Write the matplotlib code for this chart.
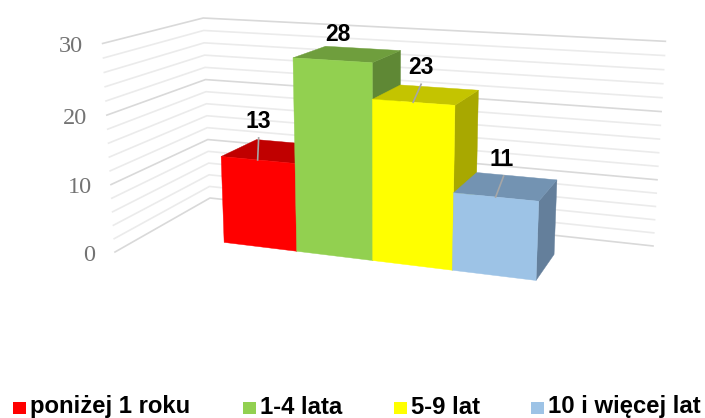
import numpy as np
import matplotlib
matplotlib.use("Agg")
import matplotlib.pyplot as plt
from matplotlib.patches import Polygon, Rectangle

# data
categories = ["poniżej 1 roku", "1-4 lata", "5-9 lat", "10 i więcej lat"]
values = [13, 28, 23, 11]
ticks = [0, 10, 20, 30]

front_cols = ["#FF0000", "#92D050", "#FFFF00", "#9DC3E6"]
top_cols = ["#C00000", "#6F9E3D", "#C4C400", "#7393B2"]
side_cols = ["#A80000", "#5F8835", "#A8A800", "#647F9B"]

# camera: (category, depth, value) -> pixel, fitted once on the bar corners
P = np.array([[65.78965762832885, 50.53904505649315, -0.5496288416570753, 224.14296183449795],
              [3.138042023983728, -7.976273374930258, -6.835055547757667, 242.41008498563372],
              [-0.022726684832926836, 0.061625699997493344, -0.0014406814338698837, 1.0]])

# walls in the same coordinates
xf, yf = -1.078, -0.815
xc, yw = -1.143, 1.768
xr = 5.093

def proj(x, y, z):
    h = P @ np.array([x, y, z, 1.0])
    return h[0]/h[2], h[1]/h[2]

fig = plt.figure(figsize=(7.05, 4.18), dpi=100)
ax = fig.add_axes([0, 0, 1, 1])
ax.set_xlim(0, 705)
ax.set_ylim(418, 0)
ax.axis("off")

# gridlines on the two walls
for z in range(0, 31, 2):
    major = z % 10 == 0
    pts = [proj(xf, yf, z), proj(xc, yw, z), proj(xr, yw, z)]
    ax.plot([p[0] for p in pts], [p[1] for p in pts],
            color="#d9d9d9" if major else "#ebebeb", lw=1.2, zorder=1)

for t in ticks:
    u, v = proj(xf, yf, t)
    ax.text(u-19.5, v+3, str(t), ha="right", va="center", family="Liberation Serif",
            fontsize=17.5, color="#737373")

def face(pts, col):
    ax.add_patch(Polygon([proj(*p) for p in pts], closed=True, fc=col, ec=col, lw=0.3, zorder=3))

for i, val in enumerate(values):
    face([(i+1,0,val),(i+1,1,val),(i+1,1,0),(i+1,0,0)], side_cols[i])
    face([(i,0,val),(i+1,0,val),(i+1,1,val),(i,1,val)], top_cols[i])
    face([(i,0,0),(i+1,0,0),(i+1,0,val),(i,0,val)], front_cols[i])

# value labels, offsets in pixels from the middle of the front top edge
lab_dx = [1, 6, 8, 6]
lab_dy = [-38, -26, -35, -37]
line_end = [(1, -22), None, (8, -18), (8, -21)]
for i, val in enumerate(values):
    u, v = proj(i+0.5, 0, val)
    if line_end[i] is not None:
        ax.plot([u, u+line_end[i][0]], [v, v+line_end[i][1]], color="#a6a6a6", lw=1.2, zorder=4)
    ax.text(u+lab_dx[i], v+lab_dy[i], str(val), ha="center", va="center",
            family="Liberation Sans", weight="bold", fontsize=16.5, color="black", zorder=5)

# legend
sq_x = [13, 243, 394, 531]
for i, c in enumerate(categories):
    ax.add_patch(Rectangle((sq_x[i], 402), 12.5, 12, fc=front_cols[i], ec="none"))
    ax.text(sq_x[i]+17, 413.5, c, ha="left", va="baseline", family="Liberation Sans",
            weight="bold", fontsize=17.2, color="black")

fig.savefig("out.png", dpi=100)
